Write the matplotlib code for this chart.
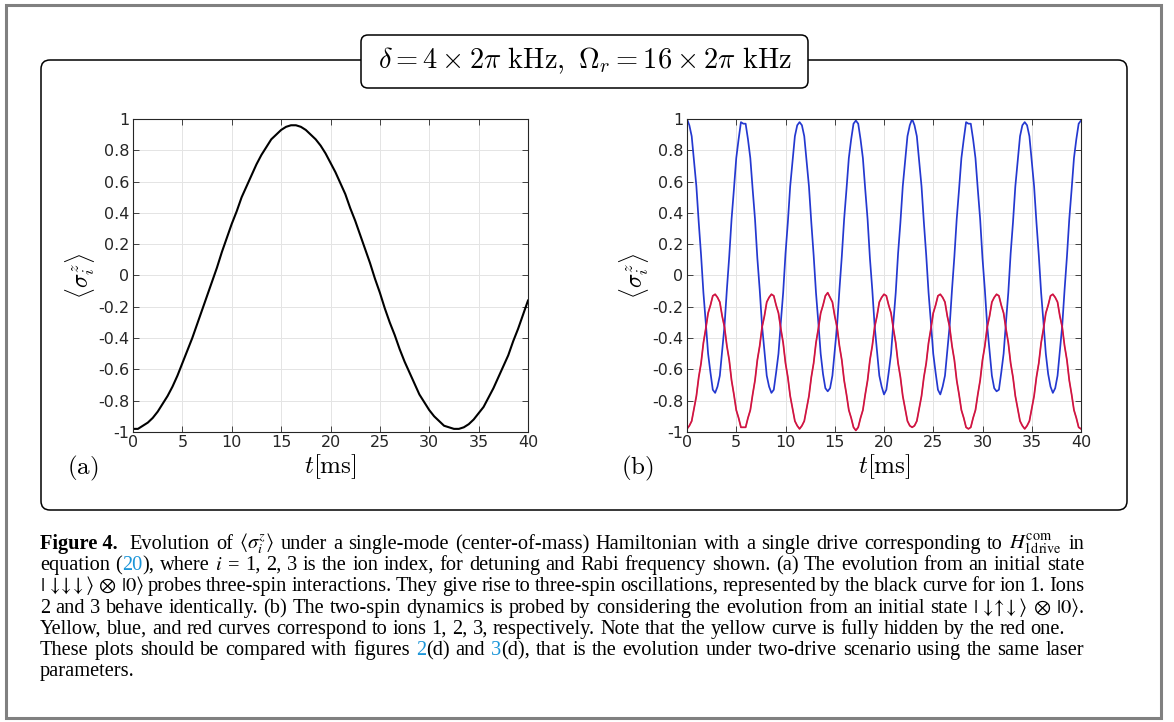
import numpy as np
import matplotlib
matplotlib.use("Agg")
import matplotlib.pyplot as plt
from matplotlib.patches import FancyBboxPatch, Rectangle
from matplotlib.transforms import IdentityTransform

W, H = 1174, 722

# panel (a): <sigma_1^z>, initial state |down down down>|0>, read every 0.5 ms
t_a = np.arange(0, 40.25, 0.5)
sz_a = [-0.98, -0.98, -0.96, -0.94, -0.91, -0.87, -0.82, -0.77, -0.71, -0.64,
        -0.56, -0.48, -0.40, -0.31, -0.22, -0.13, -0.04, 0.05, 0.15, 0.24,
        0.33, 0.41, 0.50, 0.57, 0.64, 0.71, 0.77, 0.82, 0.87, 0.90,
        0.93, 0.95, 0.96, 0.96, 0.95, 0.93, 0.90, 0.87, 0.83, 0.78,
        0.72, 0.66, 0.59, 0.52, 0.43, 0.35, 0.26, 0.17, 0.08, -0.02,
        -0.11, -0.21, -0.30, -0.38, -0.47, -0.55, -0.62, -0.69, -0.76, -0.81,
        -0.86, -0.90, -0.93, -0.96, -0.97, -0.98, -0.98, -0.97, -0.95, -0.92,
        -0.88, -0.84, -0.78, -0.72, -0.65, -0.58, -0.51, -0.42, -0.34, -0.25,
        -0.16]

# panel (b): initial state |down up down>|0>, 169 samples over 0..40 ms
t_b = np.linspace(0, 40, 169)
sz_b_ion2 = [
    1.00, 0.96, 0.89, 0.73, 0.57, 0.34, 0.13, -0.11, -0.30, -0.50, -0.62, -0.73,
    -0.75, -0.71, -0.64, -0.48, -0.32, -0.09, 0.12, 0.36, 0.55, 0.75, 0.87, 0.98,
    0.97, 0.97, 0.87, 0.75, 0.55, 0.36, 0.11, -0.09, -0.32, -0.48, -0.64, -0.71,
    -0.75, -0.73, -0.62, -0.50, -0.30, -0.11, 0.14, 0.34, 0.57, 0.73, 0.89, 0.96,
    0.98, 0.96, 0.89, 0.73, 0.57, 0.34, 0.13, -0.11, -0.30, -0.50, -0.63, -0.72,
    -0.74, -0.72, -0.64, -0.48, -0.32, -0.09, 0.12, 0.36, 0.55, 0.75, 0.87, 0.97,
    0.99, 0.97, 0.87, 0.75, 0.55, 0.36, 0.11, -0.09, -0.32, -0.48, -0.64, -0.71,
    -0.76, -0.73, -0.62, -0.50, -0.30, -0.11, 0.14, 0.34, 0.57, 0.73, 0.89, 0.96,
    1.00, 0.96, 0.89, 0.73, 0.57, 0.34, 0.13, -0.11, -0.30, -0.50, -0.62, -0.73,
    -0.76, -0.71, -0.64, -0.48, -0.32, -0.09, 0.12, 0.36, 0.55, 0.75, 0.87, 0.98,
    0.97, 0.97, 0.87, 0.75, 0.55, 0.36, 0.11, -0.09, -0.32, -0.48, -0.64, -0.72,
    -0.74, -0.73, -0.62, -0.50, -0.30, -0.11, 0.14, 0.34, 0.57, 0.73, 0.89, 0.96,
    0.98, 0.96, 0.89, 0.73, 0.57, 0.34, 0.13, -0.11, -0.30, -0.50, -0.63, -0.71,
    -0.75, -0.72, -0.64, -0.48, -0.32, -0.09, 0.12, 0.36, 0.55, 0.75, 0.87, 0.97,
    0.99]
sz_b_ion3 = [
    -0.98, -0.96, -0.93, -0.85, -0.77, -0.65, -0.56, -0.43, -0.34, -0.24, -0.19, -0.13,
    -0.12, -0.14, -0.17, -0.26, -0.33, -0.45, -0.54, -0.67, -0.76, -0.86, -0.91, -0.97,
    -0.97, -0.97, -0.91, -0.86, -0.76, -0.67, -0.54, -0.45, -0.33, -0.26, -0.17, -0.14,
    -0.12, -0.13, -0.19, -0.24, -0.34, -0.43, -0.56, -0.65, -0.77, -0.85, -0.93, -0.96,
    -0.98, -0.96, -0.93, -0.85, -0.77, -0.65, -0.56, -0.43, -0.34, -0.24, -0.19, -0.13,
    -0.11, -0.14, -0.17, -0.26, -0.33, -0.45, -0.54, -0.67, -0.76, -0.86, -0.91, -0.97,
    -0.99, -0.97, -0.91, -0.86, -0.76, -0.67, -0.54, -0.45, -0.33, -0.26, -0.17, -0.14,
    -0.12, -0.13, -0.19, -0.24, -0.34, -0.43, -0.56, -0.65, -0.77, -0.85, -0.93, -0.96,
    -0.97, -0.96, -0.93, -0.85, -0.77, -0.65, -0.56, -0.43, -0.34, -0.24, -0.19, -0.13,
    -0.12, -0.14, -0.17, -0.26, -0.33, -0.45, -0.54, -0.67, -0.76, -0.86, -0.91, -0.97,
    -0.98, -0.97, -0.91, -0.86, -0.76, -0.67, -0.54, -0.45, -0.33, -0.26, -0.17, -0.14,
    -0.12, -0.13, -0.19, -0.24, -0.34, -0.43, -0.56, -0.65, -0.77, -0.85, -0.93, -0.96,
    -0.98, -0.96, -0.93, -0.85, -0.77, -0.65, -0.56, -0.43, -0.34, -0.24, -0.19, -0.13,
    -0.12, -0.14, -0.17, -0.26, -0.33, -0.45, -0.54, -0.67, -0.76, -0.86, -0.91, -0.97,
    -0.98]
sz_b_ion1 = sz_b_ion3  # yellow curve, fully hidden below the red one

xticks = [0, 5, 10, 15, 20, 25, 30, 35, 40]
yticks = [-1, -0.8, -0.6, -0.4, -0.2, 0, 0.2, 0.4, 0.6, 0.8, 1]
ytick_labels = ["-1", "-0.8", "-0.6", "-0.4", "-0.2", "0", "0.2", "0.4", "0.6", "0.8", "1"]

title = r"$\delta = 4\times 2\pi\ \mathrm{kHz},\ \Omega_r = 16\times 2\pi\ \mathrm{kHz}$"
ylab = r"$\langle\sigma_i^z\rangle$"
xlab = r"$t[\mathrm{ms}]$"

plt.rcParams["mathtext.fontset"] = "cm"

fig = plt.figure(figsize=(W / 100, H / 100), dpi=100)
renderer = fig.canvas.get_renderer()

ax_a = fig.add_axes([133 / W, 1 - 432 / H, 395 / W, 313 / H])
ax_b = fig.add_axes([687 / W, 1 - 432 / H, 394 / W, 313 / H])

ax_a.plot(t_a, sz_a, color="black", lw=1.5)
ax_b.plot(t_b, sz_b_ion1, color="#e8b820", lw=0.9)
ax_b.plot(t_b, sz_b_ion2, color="#2438d0", lw=1.25)
ax_b.plot(t_b, sz_b_ion3, color="#d0104a", lw=1.25)

for ax, tag in ((ax_a, "(a)"), (ax_b, "(b)")):
    ax.set_xlim(0, 40)
    ax.set_ylim(-1, 1)
    ax.set_xticks(xticks)
    ax.set_yticks(yticks)
    ax.set_yticklabels(ytick_labels)
    ax.grid(True, color="#e4e4e4", lw=0.7)
    ax.set_axisbelow(True)
    ax.tick_params(direction="in", top=True, right=True, length=4, width=0.6,
                   labelsize=11.5, colors="#262626")
    ax.tick_params(axis="x", pad=2.5)
    ax.tick_params(axis="y", pad=2.5)
    for s in ax.spines.values():
        s.set_linewidth(0.8)
        s.set_color("#262626")
    ax.set_ylabel(ylab, fontsize=17, va="center")
    ax.yaxis.set_label_coords(-0.135, 0.5)
    ax.set_xlabel(xlab, fontsize=18, va="center")
    ax.xaxis.set_label_coords(0.5, -0.112)
    x0 = ax.get_position().x0 * W
    fig.text((x0 - 50) / W, 1 - 468 / H, r"$\mathrm{" + tag + "}$", fontsize=18,
             ha="center", va="center")

# frames
fig.add_artist(Rectangle((5.5, 4.5), 1155, 713, transform=IdentityTransform(),
                         fill=False, ec="#808080", lw=2.2))
fig.add_artist(FancyBboxPatch((41, H - 510), 1086, 450, transform=IdentityTransform(),
                              boxstyle="round,pad=0,rounding_size=9",
                              fill=False, ec="black", lw=1.1))
fig.add_artist(FancyBboxPatch((361, H - 88), 447, 53, transform=IdentityTransform(),
                              boxstyle="round,pad=0,rounding_size=7",
                              fc="white", ec="black", lw=1.1, zorder=3))
fig.text(585 / W, 1 - 61 / H, title, fontsize=20.5, ha="center", va="center", zorder=4)

# caption
link = "#1b95d8"
arrows3 = r"$|\,\downarrow\!\!\downarrow\!\!\downarrow\rangle$"
arrows_b = r"$|\,\downarrow\!\!\uparrow\!\!\downarrow\rangle$"
cap_lines = [
    [[("Figure 4.", "b")], 6, "Evolution", "of", r"$\langle\sigma_i^z\rangle$", "under", "a",
     "single-mode", "(center-of-mass)", "Hamiltonian", "with", "a", "single", "drive",
     "corresponding", "to", r"$H_{\mathrm{1drive}}^{\mathrm{com}}$", "in"],
    ["equation", [("(", ""), ("20", "ref"), ("),", "")], "where", r"$i$", "=", "1,", "2,", "3",
     "is", "the", "ion", "index,", "for", "detuning", "and", "Rabi", "frequency", "shown.", "(a)",
     "The", "evolution", "from", "an", "initial", "state"],
    [arrows3, r"$\otimes$", r"$|0\rangle$", "probes",
     "three-spin", "interactions.", "They", "give", "rise", "to", "three-spin", "oscillations,",
     "represented", "by", "the", "black", "curve", "for", "ion", "1.", "Ions"],
    ["2", "and", "3", "behave", "identically.", "(b)", "The", "two-spin", "dynamics", "is",
     "probed", "by", "considering", "the", "evolution", "from", "an", "initial", "state",
     arrows_b, r"$\otimes$", [(r"$|0\rangle$", ""), (".", "")]],
    "Yellow, blue, and red curves correspond to ions 1, 2, 3, respectively. Note that the yellow curve is fully hidden by the red one.".split(),
    ["These", "plots", "should", "be", "compared", "with", "figures", [("2", "ref"), ("(d)", "")],
     "and", [("3", "ref"), ("(d),", "")], "that", "is", "the", "evolution", "under", "two-drive",
     "scenario", "using", "the", "same", "laser"],
    ["parameters."],
]
cap_base = [549, 570, 591, 613, 634, 655, 676]
cap_justify = [True, True, True, True, False, True, False]
cap_left, cap_right = 40, 1084
cap_size = 14.7


def cap_text(s, style):
    kw = dict(fontsize=cap_size, family=["Liberation Serif", "DejaVu Serif"],
              math_fontfamily="stix", ha="left", va="baseline")
    if style == "b":
        kw["fontweight"] = "bold"
    if style == "ref":
        kw["color"] = link
    return fig.text(0, 0, s, **kw)


def width(t):
    return t.get_window_extent(renderer).width


probe1 = cap_text("n n", "")
probe2 = cap_text("nn", "")
space = width(probe1) - width(probe2)
probe1.remove()
probe2.remove()

for words, base, just in zip(cap_lines, cap_base, cap_justify):
    items = []
    for w in words:
        if isinstance(w, (int, float)):
            items.append(w)
            continue
        segs = [(w, "")] if isinstance(w, str) else w
        texts = [cap_text(s, st) for s, st in segs]
        items.append([(t, width(t)) for t in texts])
    words_w = sum(sum(wd for _, wd in it) for it in items if isinstance(it, list))
    extra = sum(it for it in items if not isinstance(it, list))
    n_gaps = sum(isinstance(it, list) for it in items) - 1
    gap = space
    if just and n_gaps > 0:
        gap = (cap_right - cap_left - words_w - extra) / n_gaps
    x = cap_left
    first = True
    for it in items:
        if not isinstance(it, list):
            x += it
            continue
        if not first:
            x += gap
        first = False
        for t, wd in it:
            t.set_position((x / W, 1 - base / H))
            x += wd

fig.savefig("out.png", dpi=100)
